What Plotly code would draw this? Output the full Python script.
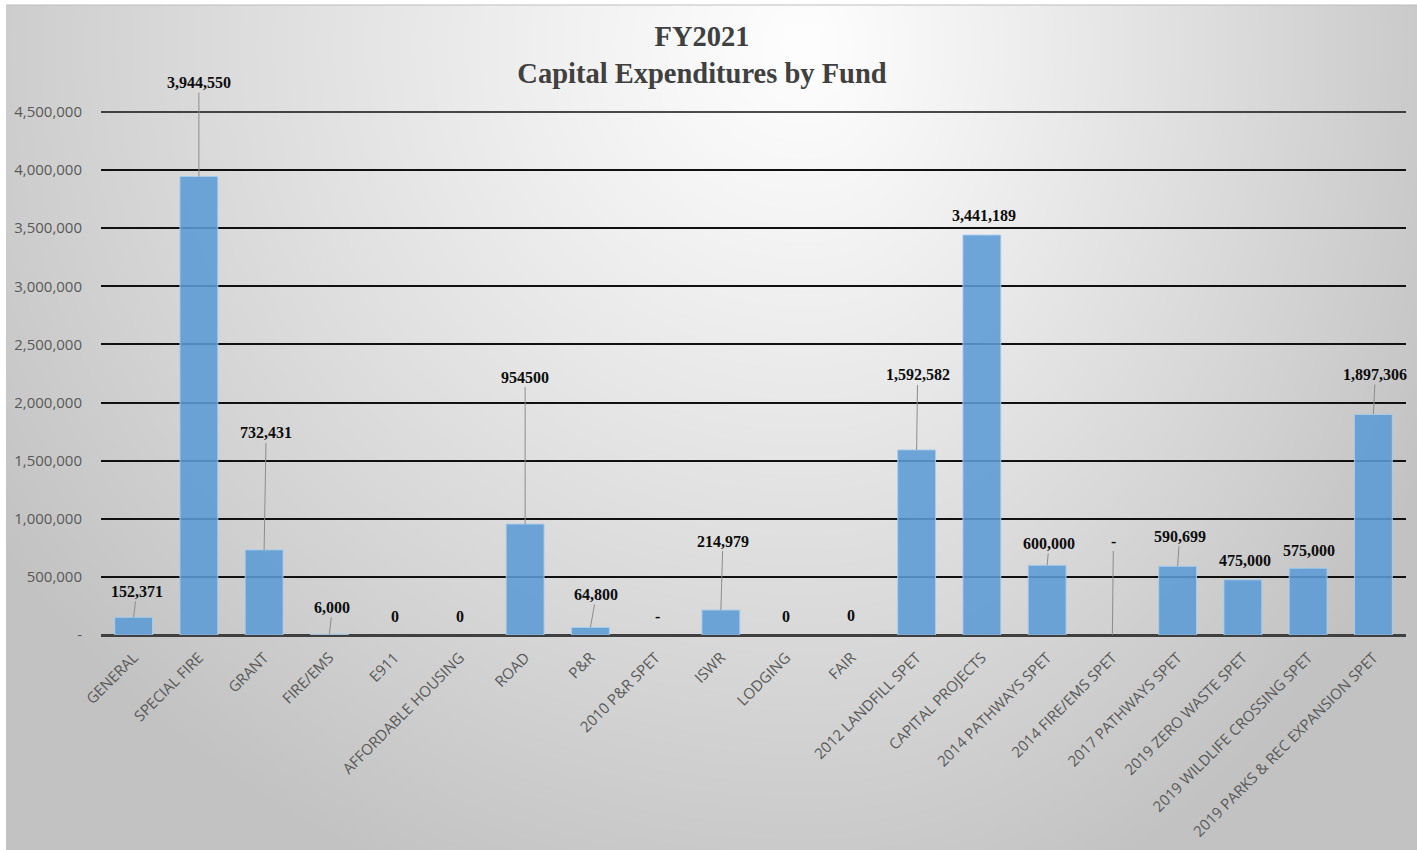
import base64
import struct
import zlib

import numpy as np
import plotly.graph_objects as go

# ---- data -------------------------------------------------------------
funds = [
    "GENERAL", "SPECIAL FIRE", "GRANT", "FIRE/EMS", "E911",
    "AFFORDABLE HOUSING", "ROAD", "P&R", "2010 P&R SPET", "ISWR",
    "LODGING", "FAIR", "2012 LANDFILL SPET", "CAPITAL PROJECTS",
    "2014 PATHWAYS SPET", "2014 FIRE/EMS SPET", "2017 PATHWAYS SPET",
    "2019 ZERO WASTE SPET", "2019 WILDLIFE CROSSING SPET",
    "2019 PARKS & REC EXPANSION SPET",
]
expenditures = [
    152371, 3944550, 732431, 6000, 0,
    0, 954500, 64800, 0, 214979,
    0, 0, 1592582, 3441189,
    600000, 0, 590699,
    475000, 575000,
    1897306,
]
value_labels = [
    "152,371", "3,944,550", "732,431", "6,000", "0",
    "0", "954500", "64,800", "-", "214,979",
    "0", "0", "1,592,582", "3,441,189",
    "600,000", "-", "590,699",
    "475,000", "575,000",
    "1,897,306",
]
y_tick_values = [0, 500000, 1000000, 1500000, 2000000, 2500000,
                 3000000, 3500000, 4000000, 4500000]

# ---- label placement: pixel offset from bar top, and whether a leader line is drawn
label_dx = [3, 0, 2, 3, 0, 0, 0, 6, 2, 2, 0, 0, 1, 2, 2, 1, 2, 2, 1, 2]
label_dy = [-26, -94, -117, -27, -19, -19, -147, -33, -19, -69,
            -19, -20, -75, -20, -22, -94, -30, -19, -18, -40]
leader = [True, True, True, True, False, False, True, True, False, True,
          False, False, True, False, True, True, True, False, False, True]

# ---- figure geometry ----------------------------------------------------
W, H = 1417, 850
M_L, M_R, M_T, M_B = 101, 11, 112, 215
PW, PH = W - M_L - M_R, H - M_T - M_B


def gradient_png(width, height):
    """Soft radial grey background as an inline greyscale PNG."""
    xs = np.arange(width, dtype=float)
    ys = np.arange(height, dtype=float)
    X, Y = np.meshgrid(xs, ys)
    cx, cy = 800.0, 40.0
    rx = np.where(X < cx, 900.0, 650.0)
    ry = 850.0
    r = np.sqrt(((X - cx) / rx) ** 2 + ((Y - cy) / ry) ** 2)
    v = 254.0 - 55.0 * r ** 1.1
    v = np.clip(v, 194, 254).astype(np.uint8)
    raw = b"".join(b"\x00" + v[j].tobytes() for j in range(height))

    def chunk(tag, data):
        body = tag + data
        return (struct.pack(">I", len(data)) + body
                + struct.pack(">I", zlib.crc32(body) & 0xFFFFFFFF))

    png = (b"\x89PNG\r\n\x1a\n"
           + chunk(b"IHDR", struct.pack(">IIBBBBB", width, height, 8, 0, 0, 0, 0))
           + chunk(b"IDAT", zlib.compress(raw, 9))
           + chunk(b"IEND", b""))
    return "data:image/png;base64," + base64.b64encode(png).decode()


def px_to_paper_x(px):
    return (px - M_L) / PW


def px_to_paper_y(py):
    return 1 - (py - M_T) / PH


BG_X0, BG_Y0 = 6, 5
bg_src = gradient_png(W - BG_X0, H - BG_Y0)

fig = go.Figure()

fig.add_trace(go.Bar(
    x=funds,
    y=expenditures,
    width=0.58,
    marker=dict(color="rgba(91,155,213,0.88)",
                line=dict(color="rgba(170,205,236,0.9)",
                          width=[1 if v > 0 else 0 for v in expenditures])),
    hoverinfo="x+y",
))

annotations = []
for i, (name, val, txt) in enumerate(zip(funds, expenditures, value_labels)):
    common = dict(
        x=name, y=val, xref="x", yref="y", text=txt,
        font=dict(family="Liberation Serif", size=16, color="#0d0d0d", weight="bold"),
    )
    if leader[i]:
        annotations.append(dict(
            **common, showarrow=True, arrowhead=0, arrowwidth=1,
            arrowcolor="#8c8c8c", standoff=0, startstandoff=0,
            ax=label_dx[i], ay=label_dy[i], axref="pixel", ayref="pixel",
        ))
    else:
        annotations.append(dict(
            **common, showarrow=False,
            xshift=label_dx[i], yshift=-label_dy[i],
        ))

grid_style = dict(color="#111111", width=1.5)

fig.update_layout(
    template="none",
    width=W,
    height=H,
    autosize=False,
    margin=dict(l=M_L, r=M_R, t=M_T, b=M_B, pad=0),
    paper_bgcolor="white",
    plot_bgcolor="rgba(0,0,0,0)",
    showlegend=False,
    title=dict(
        text="FY2021<br>Capital Expenditures by Fund",
        font=dict(family="Liberation Serif", size=28.5, color="#404040", weight="bold"),
        x=702 / W, xref="container", xanchor="center",
        y=1 - 46 / H, yref="container", yanchor="top",
    ),
    xaxis=dict(
        type="category",
        range=[-0.5, len(funds) - 0.5],
        tickangle=-45,
        tickfont=dict(family="Open Sans", size=15, color="#595959"),
        showgrid=False, showline=False, zeroline=False, ticks="",
        ticklabelstandoff=10,
        automargin=False,
    ),
    yaxis=dict(
        range=[0, y_tick_values[-1]],
        tickvals=y_tick_values,
        ticktext=["-" if v == 0 else f"{v:,}" for v in y_tick_values],
        tickfont=dict(family="Open Sans", size=15, color="#595959"),
        showgrid=True, gridcolor=grid_style["color"], gridwidth=grid_style["width"],
        zeroline=True, zerolinecolor="#404040", zerolinewidth=3,
        showline=False, ticks="", ticklabelstandoff=18,
        automargin=False,
    ),
    annotations=annotations,
    images=[dict(
        source=bg_src, xref="paper", yref="paper",
        x=px_to_paper_x(BG_X0), y=px_to_paper_y(BG_Y0),
        sizex=(W - BG_X0) / PW, sizey=(H - BG_Y0) / PH,
        xanchor="left", yanchor="top", sizing="stretch", layer="below",
    )],
    shapes=[
        # top gridline at the upper end of the value range (paper y = 1)
        dict(type="line", xref="paper", yref="paper", layer="below",
             x0=0, x1=1, y0=1, y1=1, line=grid_style),
        # thin frame line along the top of the chart area
        dict(type="line", xref="paper", yref="paper",
             x0=px_to_paper_x(BG_X0), x1=px_to_paper_x(W),
             y0=px_to_paper_y(BG_Y0), y1=px_to_paper_y(BG_Y0),
             line=dict(color="#bdbdbd", width=1)),
    ],
)

fig.write_html("out.html")
